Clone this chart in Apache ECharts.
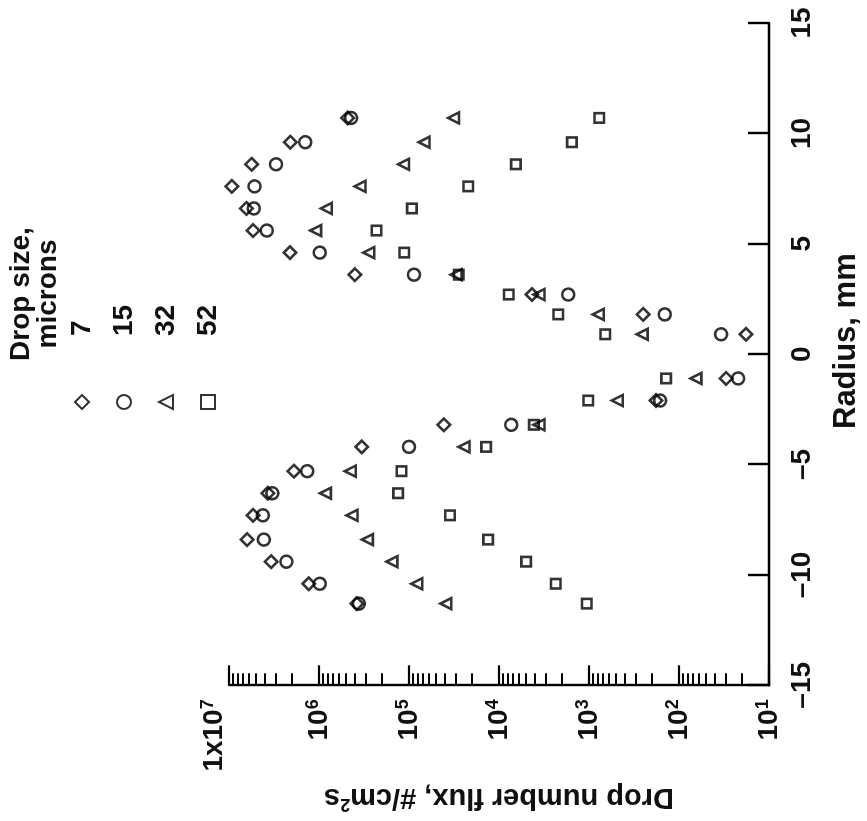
<!DOCTYPE html>
<html>
<head>
<meta charset="utf-8">
<title>Drop number flux vs radius</title>
<script src="https://cdn.jsdelivr.net/npm/echarts@6/dist/echarts.min.js"></script>
<style>
html, body { margin: 0; padding: 0; background: #fff; overflow: hidden; }
#wrap { position: relative; width: 867px; height: 821px; overflow: hidden; }
/* the figure is printed turned a quarter turn, so draw it upright and turn the box */
#chart { position: absolute; left: 0; top: 0; width: 821px; height: 867px;
  transform-origin: 0 0; transform: translate(0px, 821px) rotate(-90deg); }
</style>
</head>
<body>
<div id="wrap"><div id="chart"></div></div>
<script>
// radius of the measuring stations, mm
var radius = [10.7, 9.6, 8.6, 7.6, 6.6, 5.6, 4.6, 3.6, 2.7, 1.8, 0.9,
              -1.1, -2.1, -3.2, -4.2, -5.3, -6.3, -7.3, -8.4, -9.4, -10.4, -11.3];

// drop number flux, #/cm2s, one list per drop size
var flux7  = [4.8e5, 2.08e6, 5.6e6, 9.3e6, 6.4e6, 5.4e6, 2.1e6, 4.0e5, 4.3e3, 250, 18,
              30, 180, 4.1e4, 3.35e5, 1.9e6, 3.7e6, 5.4e6, 6.3e6, 3.4e6, 1.3e6, 3.8e5];
var flux15 = [4.4e5, 1.42e6, 3.0e6, 5.2e6, 5.3e6, 3.8e6, 9.8e5, 8.8e4, 1.7e3, 144, 34,
              22, 162, 7.3e3, 1.0e5, 1.35e6, 3.3e6, 4.2e6, 4.1e6, 2.3e6, 9.8e5, 3.6e5];
var flux32 = [3.2e4, 6.8e4, 1.15e5, 3.5e5, 8.3e5, 1.09e6, 2.8e5, 3.0e4, 3.6e3, 790, 257,
              65, 485, 3.6e3, 2.45e4, 4.5e5, 8.5e5, 4.3e5, 2.9e5, 1.55e5, 8.2e4, 3.9e4];
var flux52 = [770, 1.55e3, 6.5e3, 2.2e4, 9.3e4, 2.3e5, 1.13e5, 2.8e4, 7.8e3, 2.2e3, 660,
              139, 1.02e3, 4.1e3, 1.39e4, 1.21e5, 1.32e5, 3.5e4, 1.32e4, 5.0e3, 2.34e3, 1.06e3];

var dropSizes = ['7', '15', '32', '52'];
var decades = [1, 2, 3, 4, 5, 6];          // minor ticks go in each of these decades
var mantissas = [2, 3, 4, 5, 6, 7, 8, 9];

var FONT = '"Liberation Sans", Arial, sans-serif';
var INK = '#111';

function pairs(vals) {
    return radius.map(function (r, i) { return [r, vals[i]]; });
}

// positions of 2..9 x 10^n on a plain axis that runs in log10 units
var minorTicks = [];
decades.forEach(function (n) {
    mantissas.forEach(function (m) { minorTicks.push(n + Math.log10(m)); });
});

var markStyle = { color: 'rgba(0,0,0,0)', borderColor: '#000', borderWidth: 2.6 };

var option = {
    animation: false,
    textStyle: { fontFamily: FONT, color: INK, fontWeight: 'bold' },
    title: {
        text: 'Drop size,\nmicrons',
        left: 522,
        top: 3,
        textAlign: 'center',
        textStyle: { fontFamily: FONT, fontSize: 28, lineHeight: 27, fontWeight: 'bold', color: INK }
    },
    legend: {
        orient: 'vertical',
        left: 411,
        top: 67,
        padding: 0,
        itemWidth: 14,
        itemHeight: 14,
        itemGap: 12,
        selectedMode: false,
        data: dropSizes,
        textStyle: { fontFamily: FONT, fontSize: 28, lineHeight: 30, fontWeight: 'bold',
                     color: INK, padding: [0, 0, 0, 54] }
    },
    grid: { left: 132, right: 23, top: 229, bottom: 96 },
    xAxis: {
        type: 'value',
        min: -15,
        max: 15,
        interval: 5,
        name: 'Radius, mm',
        nameLocation: 'middle',
        nameGap: 62,
        nameTextStyle: { fontFamily: FONT, fontSize: 31, fontWeight: 'bold', color: INK,
                         padding: [0, 0, 0, 26] },
        axisLine: { onZero: false, lineStyle: { color: '#000', width: 2.4 } },
        axisTick: { inside: true, length: 21, lineStyle: { color: '#000', width: 2.4 } },
        axisLabel: {
            margin: 19,
            fontSize: 28,
            fontWeight: 'bold',
            color: INK,
            formatter: function (v) { return v < 0 ? '\u2013' + (-v) : String(v); }
        },
        splitLine: { show: false }
    },
    yAxis: [{
        type: 'log',
        logBase: 10,
        min: 10,
        max: 1e7,
        name: '{a|Drop number flux, #/cm}{s|2}{a|s}',
        nameLocation: 'middle',
        nameGap: 86,
        nameTextStyle: {
            rich: {
                a: { fontFamily: FONT, fontSize: 29, lineHeight: 32, fontWeight: 'bold', color: INK },
                s: { fontFamily: FONT, fontSize: 18, lineHeight: 18, fontWeight: 'bold',
                     verticalAlign: 'top', color: INK }
            }
        },
        axisLine: { onZero: false, lineStyle: { color: '#000', width: 2.4 } },
        axisTick: { inside: true, length: 20, lineStyle: { color: '#000', width: 2.2 } },
        axisLabel: {
            margin: 14,
            verticalAlignMaxLabel: 'bottom',
            formatter: function (v) {
                var n = Math.round(Math.log10(v));
                return n === 7 ? '{b|1x10}{s|7}' : '{b|10}{s|' + n + '}';
            },
            rich: {
                b: { fontFamily: FONT, fontSize: 28, lineHeight: 30, fontWeight: 'bold', color: INK },
                s: { fontFamily: FONT, fontSize: 18, lineHeight: 18, fontWeight: 'bold',
                     verticalAlign: 'top', color: INK }
            }
        },
        splitLine: { show: false }
    }, {
        // helper axis in log10 units, only for the 2..9 minor ticks
        type: 'value',
        position: 'left',
        min: 1,
        max: 7,
        axisLine: { show: false, onZero: false },
        axisLabel: { show: false },
        axisTick: { show: true, inside: true, length: 12, customValues: minorTicks,
                    lineStyle: { color: '#000', width: 2 } },
        splitLine: { show: false }
    }],
    series: [{
        name: '7', type: 'scatter', symbol: 'diamond', symbolSize: 12.5,
        data: pairs(flux7), itemStyle: markStyle, silent: true
    }, {
        name: '15', type: 'scatter', symbol: 'circle', symbolSize: 12,
        data: pairs(flux15), itemStyle: markStyle, silent: true
    }, {
        name: '32', type: 'scatter', symbol: 'triangle', symbolSize: 11,
        data: pairs(flux32), itemStyle: markStyle, silent: true
    }, {
        name: '52', type: 'scatter', symbol: 'rect', symbolSize: 9.5,
        data: pairs(flux52), itemStyle: markStyle, silent: true
    }]
};

var chart = echarts.init(document.getElementById('chart'), null, { renderer: 'canvas' });
chart.setOption(option);
</script>
</body>
</html>
